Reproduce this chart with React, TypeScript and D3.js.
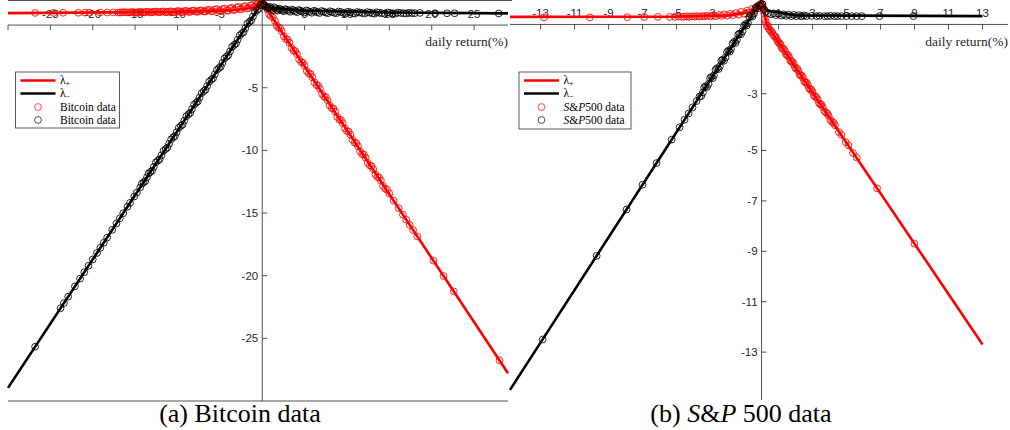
import React from "react";
import * as d3 from "d3";

type Pt = [number, number];

// ---------- Bitcoin panel ----------
const bitcoinXTicks = [-30, -25, -20, -15, -10, -5, 5, 10, 15, 20, 25];
const bitcoinXTickLabels = ["", "-25", "-20", "-15", "-10", "-5", "5", "10", "15", "20", "25"];
const bitcoinYTicks = [-5, -10, -15, -20, -25];
const bitcoinYTickLabels = ["-5", "-10", "-15", "-20", "-25"];

// lambda+ and lambda- curves (daily return %, lambda)
const bitcoinLambdaPlus: Pt[] = [[-30, 0.95], [-10, 1.05], [-3, 1.2], [-1, 1.4], [0, 1.8], [29, -27.78]];
const bitcoinLambdaMinus: Pt[] = [[-30, -28.95], [0, 1.8], [1, 1.35], [5, 1.15], [15, 1.0], [29, 0.93]];

// observed returns on the lambda+ branch
const bitcoinPlusData: Pt[] = [
  [-26.8, 0.97], [-24.6, 0.97], [-23.5, 0.98], [-21.7, 0.98], [-20.9, 0.99], [-20.4, 0.99], [-19.1, 1.0],
  [-18.3, 1.0], [-17.6, 1.01], [-17.0, 1.0], [-16.5, 1.02], [-16.0, 1.01], [-15.5, 1.03], [-15.0, 1.0],
  [-14.6, 1.04], [-14.1, 1.02], [-13.7, 1.05], [-13.2, 1.01], [-12.8, 1.06], [-12.3, 1.03], [-11.9, 1.07],
  [-11.4, 1.02], [-11.0, 1.08], [-10.5, 1.04], [-10.1, 1.1], [-9.6, 1.03], [-9.2, 1.12], [-8.7, 1.05],
  [-8.3, 1.14], [-7.8, 1.06], [-7.4, 1.16], [-6.9, 1.08], [-6.5, 1.2], [-6.0, 1.1], [-5.6, 1.24],
  [-5.1, 1.12], [-4.7, 1.28], [-4.2, 1.15], [-3.8, 1.33], [-3.4, 1.2], [-3.0, 1.4], [-2.6, 1.25],
  [-2.2, 1.46], [-1.8, 1.32], [-1.4, 1.55], [-1.0, 1.42], [-0.7, 1.62], [-0.4, 1.55], [-0.1, 1.72],
  [-16.75, 1.0], [-16.25, 1.03], [-15.75, 1.0], [-15.25, 1.04], [-14.8, 1.0], [-14.35, 1.05],
  [-13.9, 1.01], [-13.45, 1.07], [-13.0, 1.02], [-12.55, 1.08], [-12.1, 1.02], [-11.65, 1.09],
  [-11.2, 1.03], [-10.75, 1.1], [-10.3, 1.03], [-9.85, 1.12], [-9.4, 1.04], [-8.95, 1.14],
  [-8.5, 1.05], [-8.05, 1.16], [-7.6, 1.06], [-7.15, 1.18], [-6.7, 1.08], [-6.25, 1.22],
  [-5.8, 1.1], [-5.35, 1.27], [-4.9, 1.12], [-4.45, 1.32], [-4.0, 1.16], [-3.6, 1.38],
  [-3.2, 1.22], [-2.8, 1.45], [-2.4, 1.28], [-2.0, 1.52], [-1.6, 1.36], [-1.2, 1.6],
  [-0.85, 1.48], [-0.55, 1.68], [-0.25, 1.62],
  [0.2, 1.6], [0.6, 1.25], [1.0, 0.72], [1.5, 0.33], [1.9, -0.2], [2.3, -0.5], [2.8, -1.12], [3.2, -1.4],
  [3.7, -2.03], [4.1, -2.32], [4.6, -2.95], [5.0, -3.24], [5.5, -3.87], [5.9, -4.16], [6.4, -4.79],
  [6.8, -5.08], [7.3, -5.71], [7.7, -6.0], [8.2, -6.62], [8.6, -6.91], [9.1, -7.54], [9.5, -7.83],
  [10.0, -8.46], [10.4, -8.75], [10.9, -9.38], [11.3, -9.67], [11.8, -10.3], [12.2, -10.58],
  [12.7, -11.21], [13.1, -11.5], [13.6, -12.13], [14.0, -12.42], [14.5, -13.05], [15.0, -13.44],
  [0.4, 1.49], [0.8, 0.88], [1.25, 0.63], [1.7, -0.03], [2.1, -0.24], [2.55, -0.9], [3.0, -1.16],
  [3.45, -1.82], [3.9, -2.08], [4.35, -2.74], [4.8, -3.0], [5.25, -3.66], [5.7, -3.91], [6.15, -4.57],
  [6.6, -4.83], [7.05, -5.49], [7.5, -5.75], [7.95, -6.41], [8.4, -6.67], [8.85, -7.33], [9.3, -7.59],
  [9.75, -8.25], [10.2, -8.5], [10.65, -9.16], [11.1, -9.42], [11.55, -10.08], [12.0, -10.34],
  [12.45, -11.0], [12.9, -11.26], [13.35, -11.92], [13.8, -12.18], [14.25, -12.84], [14.75, -13.15],
  [15.5, -14.01], [16.1, -14.62], [16.6, -15.13], [17.0, -15.54], [17.4, -15.95], [17.8, -16.36],
  [18.3, -16.87], [20.2, -18.8], [21.4, -20.03], [22.6, -21.25], [28.0, -26.76],
];

// observed returns on the lambda- branch
const bitcoinMinusData: Pt[] = [
  [-26.8, -25.67], [-23.8, -22.6], [-23.4, -22.19], [-22.9, -21.67], [-22.1, -20.85], [-21.5, -20.24],
  [-21.0, -19.73], [-20.5, -19.21], [-20.0, -18.7], [-19.5, -18.19], [-19.1, -17.78], [-18.7, -17.37],
  [-18.3, -16.96], [-17.7, -16.34], [-17.2, -15.83], [-16.8, -15.42], [-16.4, -15.01], [-15.9, -14.5],
  [-15.6, -14.19], [-15.1, -13.68], [-14.8, -13.37], [-14.4, -12.96], [-14.0, -12.55], [-13.6, -12.14],
  [-13.2, -11.73], [-12.8, -11.32], [-12.3, -10.81], [-11.9, -10.4], [-11.4, -9.89], [-11.0, -9.48],
  [-10.5, -8.96], [-10.1, -8.55], [-9.6, -8.04], [-9.2, -7.63], [-8.7, -7.12], [-8.3, -6.71],
  [-7.8, -6.2], [-7.4, -5.79], [-6.9, -5.27], [-6.5, -4.86], [-6.0, -4.35], [-5.6, -3.94],
  [-5.1, -3.43], [-4.7, -3.02], [-4.2, -2.51], [-3.8, -2.1], [-3.3, -1.58], [-2.9, -1.17],
  [-2.4, -0.66], [-2.0, -0.25], [-1.5, 0.26], [-1.1, 0.67], [-0.6, 1.19], [-0.2, 1.6],
  [-14.2, -12.66], [-13.8, -12.45], [-13.4, -11.84], [-13.0, -11.63], [-12.55, -10.96], [-12.1, -10.7],
  [-11.65, -10.04], [-11.2, -9.78], [-10.75, -9.12], [-10.3, -8.86], [-9.85, -8.2], [-9.4, -7.94],
  [-8.95, -7.27], [-8.5, -7.01], [-8.05, -6.35], [-7.6, -6.09], [-7.15, -5.43], [-6.7, -5.17],
  [-6.25, -4.51], [-5.8, -4.25], [-5.35, -3.58], [-4.9, -3.32], [-4.45, -2.66], [-4.0, -2.4],
  [-3.55, -1.74], [-3.1, -1.48], [-2.65, -0.82], [-2.2, -0.56], [-1.75, 0.11], [-1.3, 0.37],
  [-0.85, 1.03], [-0.4, 1.29],
  [0.1, 1.7], [0.3, 1.55], [0.5, 1.45], [0.8, 1.38], [1.1, 1.3], [1.4, 1.42], [1.7, 1.22], [2.0, 1.3],
  [2.4, 1.18], [2.7, 1.27], [3.1, 1.15], [3.5, 1.24], [3.9, 1.1], [4.3, 1.2], [4.7, 1.08], [5.2, 1.17],
  [5.6, 1.05], [6.1, 1.14], [6.5, 1.02], [7.0, 1.12], [7.5, 1.0], [8.0, 1.1], [8.5, 0.98], [9.0, 1.08],
  [9.6, 0.97], [10.1, 1.06], [10.7, 0.95], [11.2, 1.04], [11.8, 0.96], [12.4, 1.03], [13.0, 0.94],
  [13.5, 1.02], [14.1, 0.95], [14.8, 1.0], [15.4, 0.93], [16.0, 0.99], [16.7, 0.94], [17.3, 0.98],
  [0.2, 1.62], [0.65, 1.35], [0.95, 1.45], [1.25, 1.2], [1.55, 1.33], [1.85, 1.15], [2.2, 1.25],
  [2.55, 1.1], [2.9, 1.22], [3.3, 1.06], [3.7, 1.18], [4.1, 1.03], [4.5, 1.15], [4.95, 1.0],
  [5.4, 1.12], [5.85, 0.98], [6.3, 1.1], [6.75, 0.96], [7.25, 1.07], [7.75, 0.95], [8.25, 1.05],
  [8.75, 0.94], [9.3, 1.04], [9.85, 0.93], [10.4, 1.02], [10.95, 0.92], [11.5, 1.0], [12.1, 0.92],
  [12.7, 0.99], [13.25, 0.91], [13.8, 0.98], [14.45, 0.92], [15.1, 0.97], [15.7, 0.91], [16.35, 0.96],
  [17.0, 0.92], [17.65, 0.95],
  [18.0, 0.95], [18.6, 0.97], [20.4, 0.95], [21.8, 0.94], [22.7, 0.94], [27.9, 0.93],
];

// ---------- S&P 500 panel ----------
const spXTicks = [-13, -11, -9, -7, -5, -3, -1, 1, 3, 5, 7, 9, 11, 13];
const spXTickLabels = ["-13", "-11", "-9", "-7", "-5", "-3", "-1", "1", "3", "5", "7", "9", "11", "13"];
const spYTicks = [-2.75, -5, -7, -9, -11, -13];
const spYTickLabels = ["-3", "-5", "-7", "-9", "-11", "-13"];

const spLambdaPlus: Pt[] = [[-14.8, 0.3], [-5, 0.31], [-2, 0.36], [-0.6, 0.5], [0, 0.95], [0.3, 0.0], [13, -12.7]];
const spLambdaMinus: Pt[] = [[-14.8, -14.5], [0, 0.95], [0.3, 0.55], [2, 0.36], [13, 0.33]];

const spPlusData: Pt[] = [
  [-12.8, 0.28], [-10.1, 0.28], [-7.9, 0.29], [-6.9, 0.29], [-6.1, 0.3], [-5.4, 0.3], [-5.1, 0.3],
  [-4.9, 0.31], [-4.7, 0.3], [-4.55, 0.31], [-4.4, 0.32], [-4.25, 0.3], [-4.1, 0.32], [-3.95, 0.31],
  [-3.8, 0.33], [-3.65, 0.31], [-3.5, 0.33], [-3.35, 0.32], [-3.2, 0.35], [-3.0, 0.32], [-2.85, 0.36],
  [-2.7, 0.33], [-2.5, 0.38], [-2.35, 0.34], [-2.2, 0.4], [-2.0, 0.35], [-1.85, 0.42], [-1.7, 0.37],
  [-1.5, 0.45], [-1.35, 0.39], [-1.2, 0.5], [-1.0, 0.42], [-0.85, 0.55], [-0.7, 0.47], [-0.55, 0.62],
  [-0.4, 0.55], [-0.25, 0.72], [-0.1, 0.8],
  [0.06, 0.8], [0.15, 0.45], [0.25, 0.1], [0.38, -0.05], [0.5, -0.22], [0.62, -0.3], [0.75, -0.47],
  [0.88, -0.56], [1.0, -0.72], [1.12, -0.8], [1.25, -0.97], [1.38, -1.06], [1.5, -1.22], [1.63, -1.31],
  [1.76, -1.48], [1.9, -1.58], [2.03, -1.75], [2.17, -1.85], [2.3, -2.02], [2.44, -2.12], [2.58, -2.3],
  [2.72, -2.4], [2.86, -2.58], [3.0, -2.68], [3.15, -2.87], [3.3, -2.97], [3.45, -3.17], [3.6, -3.28],
  [0.1, 0.62], [0.2, 0.2], [0.32, -0.07], [0.44, -0.18], [0.56, -0.3], [0.68, -0.4], [0.82, -0.48],
  [0.94, -0.66], [1.06, -0.74], [1.18, -0.92], [1.32, -0.98], [1.44, -1.18], [1.56, -1.22],
  [1.7, -1.44], [1.83, -1.49], [1.96, -1.7], [2.1, -1.76], [2.24, -1.98], [2.37, -2.03], [2.51, -2.25],
  [2.65, -2.31], [2.79, -2.53], [2.93, -2.59], [3.08, -2.82], [3.22, -2.88], [3.38, -3.12],
  [3.52, -3.18], [3.7, -3.44], [3.88, -3.54], [4.05, -3.79], [4.24, -3.9],
  [3.8, -3.5], [3.95, -3.63], [4.15, -3.87], [4.32, -4.0], [4.55, -4.27], [4.7, -4.38], [4.95, -4.67],
  [5.12, -4.8], [5.38, -5.1], [5.6, -5.28], [6.8, -6.5], [9.0, -8.7],
];

const spMinusData: Pt[] = [
  [-12.88, -12.5], [-9.7, -9.18], [-7.94, -7.34], [-7.0, -6.36], [-6.18, -5.5], [-5.29, -4.57],
  [-4.82, -4.08], [-4.53, -3.78], [-4.29, -3.53], [-4.06, -3.29], [-3.82, -3.04], [-3.65, -2.86],
  [-3.45, -2.7], [-3.3, -2.45], [-3.12, -2.36], [-2.95, -2.08], [-2.8, -2.02], [-2.62, -1.74],
  [-2.45, -1.66], [-2.3, -1.4], [-2.12, -1.31], [-1.95, -1.04], [-1.8, -0.98], [-1.62, -0.69],
  [-1.45, -0.61], [-1.3, -0.36], [-1.12, -0.27], [-0.95, 0.01], [-0.8, 0.06], [-0.62, 0.35],
  [-0.45, 0.43], [-0.3, 0.69], [-0.15, 0.74],
  [-3.55, -2.84], [-3.38, -2.5], [-3.21, -2.48], [-3.03, -2.13], [-2.87, -2.13], [-2.71, -1.8],
  [-2.53, -1.77], [-2.37, -1.44], [-2.21, -1.44], [-2.03, -1.09], [-1.87, -1.08], [-1.71, -0.76],
  [-1.53, -0.73], [-1.37, -0.4], [-1.21, -0.39], [-1.03, -0.05], [-0.87, -0.04], [-0.71, 0.29],
  [-0.53, 0.32], [-0.37, 0.64], [-0.22, 0.64],
  [0.05, 0.8], [0.15, 0.6], [0.25, 0.5], [0.4, 0.45], [0.55, 0.4], [0.7, 0.44], [0.85, 0.37],
  [1.0, 0.42], [1.15, 0.35], [1.3, 0.4], [1.45, 0.34], [1.6, 0.39], [1.75, 0.33], [1.9, 0.38],
  [2.05, 0.33], [2.2, 0.37], [2.35, 0.32], [2.5, 0.36], [2.65, 0.33], [2.94, 0.34], [3.24, 0.33],
  [3.41, 0.34], [3.7, 0.33], [3.88, 0.33], [4.06, 0.34], [4.29, 0.33], [4.47, 0.33], [4.7, 0.33],
  [5.0, 0.33], [5.3, 0.33], [5.6, 0.33], [5.9, 0.33], [6.94, 0.33], [8.94, 0.33],
];

const RED = "#ff0000";
const BLACK = "#000000";
const AXIS = "#262626";
const SANS = "'Liberation Sans', Arial, Helvetica, sans-serif";
const SERIF = "'Liberation Serif', 'Times New Roman', Times, serif";
const MARKER_R = 3.4;
const MARKER_W = 0.85;

type Scale = d3.ScaleLinear<number, number>;

interface PanelProps {
  x: Scale;
  y: Scale;
  plusLine: Pt[];
  minusLine: Pt[];
  plusData: Pt[];
  minusData: Pt[];
  xTicks: number[];
  xTickLabels: string[];
  yTicks: number[];
  yTickLabels: string[];
}

function Panel({ x, y, plusLine, minusLine, plusData, minusData, xTicks, xTickLabels, yTicks, yTickLabels }: PanelProps) {
  const line = d3
    .line<Pt>()
    .x((d) => x(d[0]))
    .y((d) => y(d[1]));
  const [x0, x1] = x.range();
  const [yb, yt] = y.range();
  const ox = x(0);
  const oy = y(0);
  return (
    <g>
      {/* axes through the origin */}
      <line x1={x0} x2={x1} y1={oy} y2={oy} stroke={AXIS} strokeWidth={0.8} />
      <line x1={ox} x2={ox} y1={yt} y2={yb} stroke={AXIS} strokeWidth={0.8} />
      {xTicks.map((t, i) => (
        <g key={"xt" + i}>
          <line x1={x(t)} x2={x(t)} y1={oy} y2={oy + 5} stroke={AXIS} strokeWidth={0.8} />
          <text x={x(t)} y={oy - 7} textAnchor="middle" fontFamily={SANS} fontSize={11.5} fill={AXIS}>
            {xTickLabels[i]}
          </text>
        </g>
      ))}
      {yTicks.map((t, i) => (
        <g key={"yt" + i}>
          <line x1={ox} x2={ox + 5} y1={y(t)} y2={y(t)} stroke={AXIS} strokeWidth={0.8} />
          <text x={ox - 4} y={y(t) + 4} textAnchor="end" fontFamily={SANS} fontSize={11.5} fill={AXIS}>
            {yTickLabels[i]}
          </text>
        </g>
      ))}
      <text x={x1} y={46} textAnchor="end" fontFamily={SERIF} fontSize={13.5} fill={AXIS}>
        daily return(%)
      </text>
      {/* lambda curves */}
      <path d={line(plusLine) ?? ""} fill="none" stroke={RED} strokeWidth={2.6} strokeLinejoin="round" />
      <path d={line(minusLine) ?? ""} fill="none" stroke={BLACK} strokeWidth={2.6} strokeLinejoin="round" />
      {/* data markers */}
      {plusData.map((d, i) => (
        <circle key={"p" + i} cx={x(d[0])} cy={y(d[1])} r={MARKER_R} fill="none" stroke={RED} strokeWidth={MARKER_W} />
      ))}
      {minusData.map((d, i) => (
        <circle key={"m" + i} cx={x(d[0])} cy={y(d[1])} r={MARKER_R} fill="none" stroke={BLACK} strokeWidth={MARKER_W} />
      ))}
    </g>
  );
}

function Legend({ left, top, width, height, label }: { left: number; top: number; width: number; height: number; label: React.ReactNode }) {
  const lx0 = left + 5;
  const lx1 = left + 40;
  const tx = left + 44.5;
  const cx = left + 22.5;
  return (
    <g fontFamily={SERIF} fontSize={11.5} fill="#000">
      <rect x={left} y={top} width={width} height={height} fill="#fff" stroke="#333" strokeWidth={0.8} />
      <line x1={lx0} x2={lx1} y1={top + 8.5} y2={top + 8.5} stroke={RED} strokeWidth={2.6} />
      <text x={tx} y={top + 11.5}>
        λ<tspan fontSize={8} dy={2}>+</tspan>
      </text>
      <line x1={lx0} x2={lx1} y1={top + 21.5} y2={top + 21.5} stroke={BLACK} strokeWidth={2.6} />
      <text x={tx} y={top + 24.5}>
        λ<tspan fontSize={8} dy={2}>−</tspan>
      </text>
      <circle cx={cx} cy={top + 35} r={MARKER_R} fill="none" stroke={RED} strokeWidth={0.7} />
      <text x={tx} y={top + 38.5}>{label}</text>
      <circle cx={cx} cy={top + 48} r={MARKER_R} fill="none" stroke={BLACK} strokeWidth={0.7} />
      <text x={tx} y={top + 51.5}>{label}</text>
    </g>
  );
}

export default function App() {
  const xA = d3.scaleLinear().domain([-30, 29]).range([8, 508]);
  const yA = d3.scaleLinear().domain([-30, 2]).range([401, 0]);
  const xB = d3.scaleLinear().domain([-14.8, 14.5]).range([510, 1008]);
  const yB = d3.scaleLinear().domain([-14.9, 0.97]).range([400, 0]);

  const spLabel = (
    <>
      <tspan fontStyle="italic">S</tspan>&amp;<tspan fontStyle="italic">P</tspan>500 data
    </>
  );

  return (
    <svg
      width={1010}
      height={430}
      viewBox="0 0 1010 430"
      style={{ position: "absolute", left: 0, top: 0, display: "block", background: "#fff" }}
    >
      <rect width={1010} height={430} fill="#fff" />
      {/* frame lines of the Bitcoin axes */}
      <line x1={8} x2={512} y1={0.5} y2={0.5} stroke={AXIS} strokeWidth={0.8} />
      <line x1={8} x2={508} y1={401} y2={401} stroke={AXIS} strokeWidth={0.8} />

      <Panel
        x={xA}
        y={yA}
        plusLine={bitcoinLambdaPlus}
        minusLine={bitcoinLambdaMinus}
        plusData={bitcoinPlusData}
        minusData={bitcoinMinusData}
        xTicks={bitcoinXTicks}
        xTickLabels={bitcoinXTickLabels}
        yTicks={bitcoinYTicks}
        yTickLabels={bitcoinYTickLabels}
      />
      <Panel
        x={xB}
        y={yB}
        plusLine={spLambdaPlus}
        minusLine={spLambdaMinus}
        plusData={spPlusData}
        minusData={spMinusData}
        xTicks={spXTicks}
        xTickLabels={spXTickLabels}
        yTicks={spYTicks}
        yTickLabels={spYTickLabels}
      />

      <Legend left={15.5} top={72} width={104} height={56} label="Bitcoin data" />
      <Legend left={519} top={72} width={112} height={57} label={spLabel} />

      <text x={240} y={422} textAnchor="middle" fontFamily={SERIF} fontSize={26} fill="#000">
        (a) Bitcoin data
      </text>
      <text x={741} y={422} textAnchor="middle" fontFamily={SERIF} fontSize={26} fill="#000">
        (b) <tspan fontStyle="italic">S</tspan>&amp;<tspan fontStyle="italic">P</tspan> 500 data
      </text>
    </svg>
  );
}
